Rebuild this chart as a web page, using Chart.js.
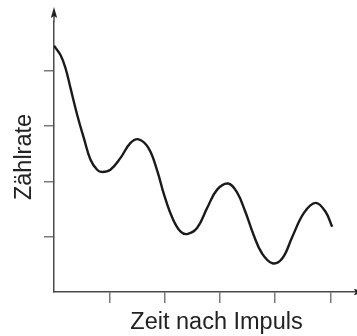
<!DOCTYPE html>
<html lang="de">
<head>
<meta charset="utf-8">
<title>Zählrate nach Impuls</title>
<script src="https://cdn.jsdelivr.net/npm/chart.js@4.4.1/dist/chart.umd.min.js"></script>
<style>
  html, body { margin: 0; padding: 0; background: #ffffff; overflow: hidden; }
  #wrap { width: 357px; height: 336px; overflow: hidden; }
  canvas { display: block; }
</style>
</head>
<body>
<div id="wrap"><canvas id="chart" width="380" height="336"></canvas></div>
<script>
// Zeit nach dem Impuls (willkürliche Einheiten) und gemessene Zählrate
const zeit = [
  0.00, 0.12, 0.21, 0.30, 0.42, 0.54, 0.66, 0.78, 0.87, 1.02,
  1.20, 1.38, 1.53, 1.71, 1.87, 1.99, 2.14, 2.29, 2.42, 2.59,
  2.77, 2.95, 3.15, 3.31, 3.46, 3.61, 3.76, 3.95, 4.13, 4.31,
  4.52, 4.73, 4.91, 5.03
];
const zaehlrate = [
  4.45, 4.28, 4.04, 3.68, 3.20, 2.78, 2.39, 2.21, 2.17, 2.21,
  2.42, 2.69, 2.76, 2.60, 2.18, 1.76, 1.34, 1.09, 1.05, 1.16,
  1.52, 1.85, 1.96, 1.80, 1.45, 1.03, 0.70, 0.52, 0.61, 1.00,
  1.43, 1.61, 1.45, 1.18
];
// Skalenstriche ohne Beschriftung
const xStriche = [1, 2, 3, 4, 5];
const yStriche = [1, 2, 3, 4];

const titelX = 'Zeit nach Impuls';
const titelY = 'Zählrate';

const achsenFarbe = '#4a4a4a';
const strichFarbe = '#7a7a7a';
const schrift = { family: '"Liberation Sans", Arial, Helvetica, sans-serif', size: 23.5 };

// Pfeilspitzen an den Achsenenden
const achsenPfeile = {
  id: 'achsenPfeile',
  afterDraw(chart) {
    const { ctx, chartArea, scales } = chart;
    const x0 = scales.x.getPixelForValue(0);
    const y0 = scales.y.getPixelForValue(0);
    ctx.save();
    ctx.strokeStyle = achsenFarbe;
    ctx.fillStyle = '#222';
    ctx.lineWidth = 1.5;
    // y-Achse nach oben verlängern
    const spitzeY = chartArea.top - 15;
    ctx.beginPath();
    ctx.moveTo(x0, chartArea.top);
    ctx.lineTo(x0, spitzeY + 6);
    ctx.stroke();
    ctx.beginPath();
    ctx.moveTo(x0, spitzeY);
    ctx.lineTo(x0 - 3.2, spitzeY + 11);
    ctx.lineTo(x0, spitzeY + 9);
    ctx.lineTo(x0 + 3.2, spitzeY + 11);
    ctx.closePath();
    ctx.fill();
    // x-Achse
    const spitzeX = scales.x.getPixelForValue(5.62);
    ctx.beginPath();
    ctx.moveTo(spitzeX, y0);
    ctx.lineTo(spitzeX - 11, y0 - 3.2);
    ctx.lineTo(spitzeX - 9, y0);
    ctx.lineTo(spitzeX - 11, y0 + 3.2);
    ctx.closePath();
    ctx.fill();
    ctx.restore();
  }
};

new Chart(document.getElementById('chart'), {
  type: 'line',
  data: {
    datasets: [{
      data: zeit.map((t, i) => ({ x: t, y: zaehlrate[i] })),
      borderColor: '#1a1a1a',
      borderWidth: 2.4,
      pointRadius: 0,
      fill: false,
      tension: 0.4
    }]
  },
  options: {
    responsive: false,
    animation: false,
    devicePixelRatio: 1,
    layout: { padding: { top: 22, right: 1, left: 0, bottom: 0 } },
    plugins: {
      legend: { display: false },
      tooltip: { enabled: false }
    },
    scales: {
      x: {
        type: 'linear',
        min: 0,
        max: 5.877,
        afterBuildTicks: s => { s.ticks = xStriche.map(v => ({ value: v })); },
        afterFit: s => { s.height = 44; },
        ticks: { display: false },
        grid: { drawOnChartArea: false, drawTicks: true, tickLength: 11, color: strichFarbe, lineWidth: 1.5 },
        border: { display: true, color: achsenFarbe, width: 1.5 },
        title: { display: true, text: titelX, color: '#222', font: schrift, padding: { top: 0, bottom: -1 } }
      },
      y: {
        type: 'linear',
        min: 0,
        max: 4.88,
        afterBuildTicks: s => { s.ticks = yStriche.map(v => ({ value: v })); },
        afterFit: s => { s.width = 54; },
        ticks: { display: false },
        grid: { drawOnChartArea: false, drawTicks: true, tickLength: 10, color: strichFarbe, lineWidth: 1.5 },
        border: { display: true, color: achsenFarbe, width: 1.5 },
        title: { display: true, text: titelY, color: '#222', font: schrift, padding: { top: 10, bottom: 0 } }
      }
    }
  },
  plugins: [achsenPfeile]
});
</script>
</body>
</html>
